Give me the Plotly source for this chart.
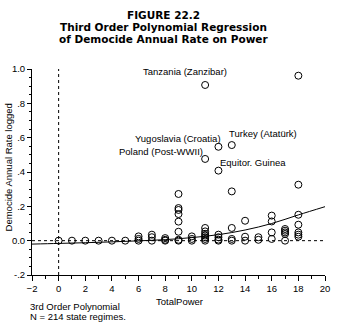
import plotly.graph_objects as go

# Scatter data: TotalPower (x) vs Democide annual rate logged (y)
pts_x = [0, 1, 2, 3, 4, 5,
         6, 6, 6,
         7, 7, 7,
         8, 8, 8,
         9, 9, 9, 9, 9, 9, 9, 9,
         10, 10, 10,
         11, 11, 11, 11, 11, 11, 11, 11, 11,
         12, 12, 12, 12, 12, 12,
         13, 13, 13, 13, 13,
         14, 14, 14,
         15, 15,
         16, 16, 16, 16,
         17, 17, 17, 17, 17,
         18, 18, 18, 18, 18, 18, 18]
pts_y = [0, 0, 0, 0, 0, 0,
         0, 0.01, 0.025,
         0, 0.02, 0.035,
         0, 0.005, 0.015,
         0, 0.005, 0.052, 0.111, 0.155, 0.179, 0.19, 0.272,
         0, 0.01, 0.025,
         0, 0.01, 0.02, 0.03, 0.04, 0.054, 0.074, 0.476, 0.907,
         0, 0.006, 0.02, 0.035, 0.408, 0.547,
         0, 0.01, 0.074, 0.287, 0.557,
         0, 0.023, 0.116,
         0.005, 0.02,
         0.01, 0.048, 0.112, 0.146,
         0, 0.039, 0.048, 0.058, 0.068,
         0.023, 0.035, 0.048, 0.093, 0.151, 0.326, 0.961]

# Third order polynomial regression curve
curve_x = [-2, 0, 2, 4, 6, 8, 10, 12, 14, 16, 18, 20]
curve_y = [-0.02, -0.016, -0.012, -0.007, -0.001, 0.006, 0.018, 0.035, 0.062, 0.100, 0.150, 0.198]

# Labelled regimes
lab_text = ["Tanzania (Zanzibar)", "Cambodia (Khmer Rouge)", "Yugoslavia (Croatia)",
            "Turkey (Atatürk)", "Poland (Post-WWII)", "Equitor. Guinea"]
lab_x = [9.5, 16.75, 8.94, 15.38, 7.72, 14.56]
lab_y = [0.984, 1.019, 0.594, 0.623, 0.518, 0.454]

title_lines = ["FIGURE 22.2", "Third Order Polynomial Regression", "of Democide Annual Rate on Power"]
title_y = [1.261, 1.205, 1.148]

x_ticks = list(range(-2, 21, 2))
y_ticks = [-0.2, 0.0, 0.2, 0.4, 0.6, 0.8, 1.0]
y_ticktext = ["-.2", "0.0", ".2", ".4", ".6", ".8", "1.0"]

FONT = "Liberation Sans, Arial, sans-serif"
TFONT = "DejaVu Sans, sans-serif"
FS = 9.5

fig = go.Figure()
fig.add_trace(go.Scatter(x=curve_x, y=curve_y, mode="lines", line=dict(color="black", width=1, shape="spline"),
                         hoverinfo="skip", showlegend=False))
fig.add_trace(go.Scatter(x=pts_x, y=pts_y, mode="markers",
                         marker=dict(symbol="circle-open", size=7, color="black", line=dict(width=1)),
                         showlegend=False))

# reference dotted lines
fig.add_shape(type="line", x0=0, x1=0, y0=-0.2, y1=1.0, xref="x", yref="y",
              line=dict(color="black", width=1, dash="dot"))
fig.add_shape(type="line", x0=-2, x1=20, y0=0, y1=0, xref="x", yref="y",
              line=dict(color="black", width=1, dash="dot"))

for t, x, y in zip(lab_text, lab_x, lab_y):
    fig.add_annotation(x=x, y=y, text=t, showarrow=False, xanchor="center", yanchor="middle",
                       font=dict(family=FONT, size=FS, color="black"))

for t, y in zip(title_lines, title_y):
    fig.add_annotation(xref="paper", yref="paper", x=0.45, y=y, text="<b>" + t + "</b>",
                       showarrow=False, xanchor="center", yanchor="middle",
                       font=dict(family=TFONT, size=10.5, color="black"))

fig.add_annotation(xref="paper", yref="paper", x=-0.012, y=-0.151, text="3rd Order Polynomial",
                   showarrow=False, xanchor="left", yanchor="middle", font=dict(family=FONT, size=FS, color="black"))
fig.add_annotation(xref="paper", yref="paper", x=-0.012, y=-0.2, text="N = 214 state regimes.",
                   showarrow=False, xanchor="left", yanchor="middle", font=dict(family=FONT, size=FS, color="black"))
fig.add_annotation(xref="paper", yref="paper", x=-0.08, y=0.52, text="Democide Annual Rate logged",
                   textangle=-90, showarrow=False, xanchor="center", yanchor="middle",
                   font=dict(family=FONT, size=FS, color="black"))
fig.add_annotation(xref="paper", yref="paper", x=0.505, y=-0.13, text="TotalPower",
                   showarrow=False, xanchor="center", yanchor="middle",
                   font=dict(family=FONT, size=FS, color="black"))

fig.update_layout(
    width=342, height=331,
    margin=dict(l=31, r=15, t=69, b=56),
    paper_bgcolor="white", plot_bgcolor="white",
    xaxis=dict(range=[-2, 20], tickvals=x_ticks, ticks="outside", ticklen=5, tickcolor="black",
               showline=True, linecolor="black", linewidth=1, showgrid=False, zeroline=False,
               tickfont=dict(family=FONT, size=FS, color="black"),
               minor=dict(dtick=1, ticks="outside", ticklen=3, tickcolor="black"), fixedrange=True),
    yaxis=dict(range=[-0.2, 1.0], tickvals=y_ticks, ticktext=y_ticktext, ticks="outside", ticklen=4,
               tickcolor="black", showline=True, linecolor="black", linewidth=1, showgrid=False,
               zeroline=False, tickfont=dict(family=FONT, size=FS, color="black"),
               minor=dict(dtick=0.05, tick0=0, ticks="outside", ticklen=2, tickcolor="black"), fixedrange=True),
)

fig.write_html("out.html")
